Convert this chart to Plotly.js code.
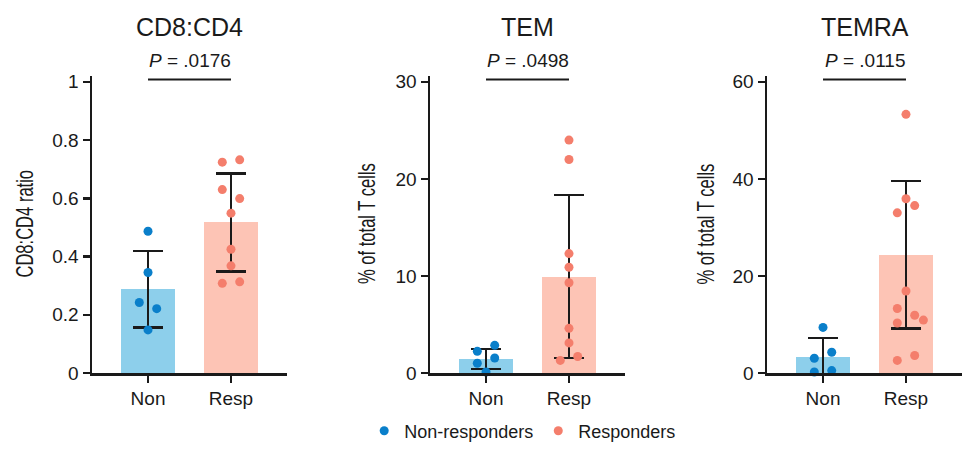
<!DOCTYPE html>
<html>
<head>
<meta charset="utf-8">
<script src="https://cdn.plot.ly/plotly-3.0.1.min.js"></script>
<style>
  html, body { margin: 0; padding: 0; background: #fff; }
  #chart { width: 977px; height: 460px; }
  /* the y titles in the figure are squeezed sideways */
  .annotation[data-index="2"] text,
  .annotation[data-index="5"] text,
  .annotation[data-index="8"] text {
    transform-box: fill-box; transform-origin: center; transform: scaleX(0.72);
  }
</style>
</head>
<body>
<div id="chart"></div>
<script>
// groups on the x axis
const groups = ['Non', 'Resp'];
const legendNames = ['Non-responders', 'Responders'];

// panel titles, p-values, axis titles
const panelTitles = ['CD8:CD4', 'TEM', 'TEMRA'];
const pValues = ['.0176', '.0498', '.0115'];
const yTitles = ['CD8:CD4 ratio', '% of total T cells', '% of total T cells'];
const yMax = [1, 30, 60];
const yStep = [0.2, 10, 20];

// individual patients
const cd8Non = [0.487, 0.345, 0.242, 0.221, 0.148];
const cd8Resp = [0.724, 0.732, 0.63, 0.599, 0.549, 0.425, 0.368, 0.308, 0.313];
const temNon = [0.1, 1.0, 1.55, 2.23, 2.85];
const temResp = [24.0, 22.0, 12.3, 10.9, 9.3, 4.6, 3.1, 1.3, 1.7];
const temraNon = [0.2, 0.5, 3.03, 4.27, 9.4];
const temraResp = [53.3, 35.9, 33.0, 34.5, 16.9, 13.3, 11.9, 10.3, 10.9, 2.6, 3.6];

// bar height (mean) and error bar (SD) as drawn
const cd8Mean = [0.288, 0.517];
const cd8SD = [0.132, 0.168];
const temMean = [1.47, 9.93];
const temSD = [1.03, 8.4];
const temraMean = [3.36, 24.4];
const temraSD = [3.84, 15.2];

const panels = [
  { non: cd8Non, resp: cd8Resp, mean: cd8Mean, sd: cd8SD },
  { non: temNon, resp: temResp, mean: temMean, sd: temSD },
  { non: temraNon, resp: temraResp, mean: temraMean, sd: temraSD }
];

// layout numbers (pixels)
const W = 977, H = 460;
const plotTop = 76, plotBottom = 373;
const panelLeft = [92, 430, 767];
const panelWidth = 195;
const yTitleX = [25.5, 367.5, 706];
const xRange = [-0.675, 1.675];
const Y_PAD = 1.02;

const ink = '#1a1a1a';
const dotColors = ['#0a7fca', '#f47e6c'];
const barColors = ['#8dcfeb', '#fdc4b5'];
const font = 'Liberation Sans, Arial, sans-serif';

// prism-like spreading of dots that sit too close in y
const STEP_PX = 8.7, CLUSTER_PX = 13, HIT_PX = 9.5;
function spread(vals, pxPerUnit, pxPerCat) {
  const order = vals.map((v, i) => i).sort((a, b) => vals[a] - vals[b]);
  const clusters = [];
  let cur = [order[0]];
  for (let k = 1; k < order.length; k++) {
    if ((vals[order[k]] - vals[order[k - 1]]) * pxPerUnit < CLUSTER_PX) cur.push(order[k]);
    else { clusters.push(cur); cur = [order[k]]; }
  }
  clusters.push(cur);

  const offs = new Array(vals.length).fill(0);
  const placed = [];
  const hits = (dx, py) => placed.some(p => Math.hypot(p[0] - dx, p[1] - py) < HIT_PX);
  clusters.forEach(c => {
    c.sort((a, b) => a - b);
    c.forEach((i, j) => {
      let side, k;
      if (c.length % 2 === 1 && j === 0) { side = 0; k = 0; }
      else {
        const jj = c.length % 2 === 1 ? j - 1 : j;
        side = jj % 2 === 0 ? -1 : 1;
        k = 1;
      }
      const py = vals[i] * pxPerUnit;
      let dx = side * k * STEP_PX;
      let tries = 0;
      while (hits(dx, py) && tries < 6) {
        if (side === 0) side = 1;
        k++; tries++;
        dx = side * k * STEP_PX;
      }
      placed.push([dx, py]);
      offs[i] = dx / pxPerCat;
    });
  });
  return offs;
}

const traces = [];
const layout = {
  width: W, height: H,
  margin: { l: 0, r: 0, t: 0, b: 0 },
  paper_bgcolor: '#fff', plot_bgcolor: '#fff',
  font: { family: font, size: 19, color: ink },
  showlegend: true,
  legend: {
    orientation: 'h', x: 0.535, xanchor: 'center', y: 1 - 431 / H, yanchor: 'middle',
    font: { family: font, size: 18, color: ink }, itemclick: false, itemdoubleclick: false
  },
  bargap: 0,
  annotations: [],
  shapes: []
};

const yDomain = [1 - plotBottom / H, 1 - plotTop / H];

panels.forEach((p, n) => {
  const ax = n === 0 ? '' : String(n + 1);
  const xa = 'x' + ax, ya = 'y' + ax;
  const top = yMax[n] * Y_PAD;
  const pxPerUnit = (plotBottom - plotTop) / top;
  const pxPerCat = panelWidth / (xRange[1] - xRange[0]);

  traces.push({
    type: 'bar', x: [0, 1], y: p.mean, width: 0.66,
    xaxis: xa, yaxis: ya, showlegend: false, hoverinfo: 'skip',
    marker: { color: barColors, line: { width: 0 } },
    error_y: { type: 'data', array: p.sd, visible: true, color: ink, thickness: 2.4, width: 15 }
  });

  [p.non, p.resp].forEach((vals, g) => {
    const offs = spread(vals, pxPerUnit, pxPerCat);
    traces.push({
      type: 'scatter', mode: 'markers',
      x: vals.map((v, i) => g + offs[i]), y: vals,
      xaxis: xa, yaxis: ya, cliponaxis: false,
      name: legendNames[g], legendgroup: legendNames[g], showlegend: n === 0,
      marker: { color: dotColors[g], size: 9, line: { width: 0 } }
    });
  });

  layout['xaxis' + ax] = {
    domain: [panelLeft[n] / W, (panelLeft[n] + panelWidth) / W], anchor: ya,
    range: xRange, tickvals: [0, 1], ticktext: groups,
    showline: true, linecolor: ink, linewidth: 2.5,
    ticks: 'outside', ticklen: 7, tickwidth: 2.5, tickcolor: ink,
    showgrid: false, zeroline: false, fixedrange: true,
    tickfont: { family: font, size: 19, color: ink }
  };
  layout['yaxis' + ax] = {
    domain: yDomain, anchor: xa,
    range: [0, top], tick0: 0, dtick: yStep[n],
    showline: true, linecolor: ink, linewidth: 2.5,
    ticks: 'outside', ticklen: 7, tickwidth: 2.5, tickcolor: ink,
    showgrid: false, zeroline: false, fixedrange: true,
    tickfont: { family: font, size: 19, color: ink }
  };

  layout.annotations.push(
    { text: panelTitles[n], xref: xa, x: 0.5, yref: 'paper', y: 1 - 27 / H,
      xanchor: 'center', yanchor: 'middle',
      showarrow: false, font: { family: font, size: 25, color: ink } },
    { text: '<i>P</i> = ' + pValues[n], xref: xa, x: 0.5, yref: 'paper', y: 1 - 60 / H,
      xanchor: 'center', yanchor: 'middle',
      showarrow: false, font: { family: font, size: 19, color: ink } },
    { text: yTitles[n], xref: 'paper', x: yTitleX[n] / W,
      yref: 'paper', y: 1 - 224 / H, xanchor: 'center', yanchor: 'middle',
      textangle: -90, showarrow: false,
      font: { family: font, size: 23, color: ink } }
  );
  layout.shapes.push({
    type: 'line', xref: xa, x0: 0, x1: 1, yref: 'paper', y0: 1 - 79.5 / H, y1: 1 - 79.5 / H,
    line: { color: ink, width: 2 }
  });
});

Plotly.newPlot('chart', traces, layout, { displayModeBar: false, staticPlot: true });
</script>
</body>
</html>
